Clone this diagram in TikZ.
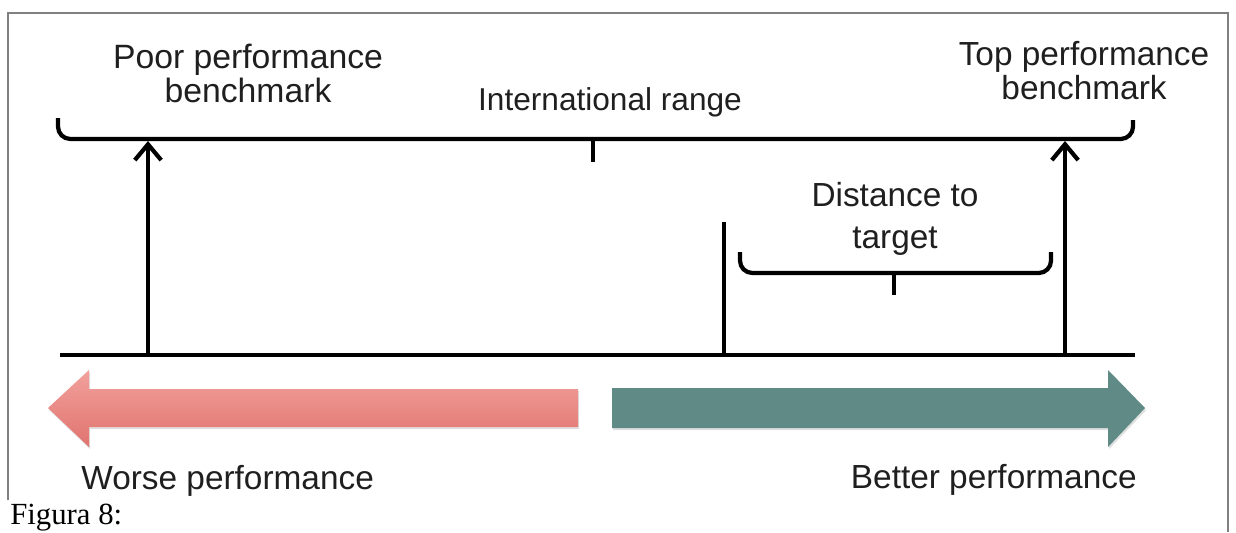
\documentclass[tikz,border=0pt]{standalone}
\usepackage{fontspec}
\setmainfont{Liberation Sans}
\newfontfamily\captionfont{Liberation Serif}
\usepackage[HTML]{xcolor}
\usepackage{tikz}
\usetikzlibrary{positioning, arrows, arrows.meta, shadows}

\definecolor{worsetop}{HTML}{F2A19D}
\definecolor{worsebot}{HTML}{E0736E}
\definecolor{better}{HTML}{5F8A86}
\definecolor{frame}{HTML}{808080}

\begin{document}
\begin{tikzpicture}[x=0.02cm, y=-0.02cm,
  line/.style={line width=2.4pt, black},
  bracket/.style={line width=2.4pt, black, rounded corners=7},
  uparrow/.style={line width=2.4pt, -{Straight Barb[length=9pt,width=15pt,line width=2.4pt]}},
  label/.style={inner sep=0pt, align=center, text=black!88},
  bigarrow/.style={drop shadow={shadow xshift=0.6pt, shadow yshift=-1.2pt, opacity=0.25}}]
\useasboundingbox (0,0) rectangle (1236,532);

% Frame round the figure
\draw[frame, line width=1.6pt] (8,500) -- (8,13) -- (1228,13) -- (1228,532);

% Labels on top
\node[label, anchor=north, font=\fontsize{19.2}{19.3}\selectfont] (poor) at (248,44) {Poor performance\\benchmark};
\node[label, anchor=north, font=\fontsize{19}{19.3}\selectfont] (top) at (1084,41) {Top performance\\benchmark};
\node[label, anchor=north, font=\fontsize{18}{20}\selectfont] (intl) at (610,87) {International range};
\node[label, anchor=north, font=\fontsize{19}{23.8}\selectfont] (dist) at (895,182) {Distance to\\target};

% International range bracket
\coordinate (rangeL) at (58,139);
\coordinate (rangeR) at (1133,139);
\draw[bracket] (58,118) -- (rangeL) -- (rangeR) -- (1133,120);
\draw[line] (593,139) -- (593,162);

% Distance to target bracket
\coordinate (distL) at (740,273);
\coordinate (distR) at (1051,273);
\draw[bracket] (740,252) -- (distL) -- (distR) -- (1051,252);
\draw[line] (894,273) -- (894,295);

% Axis with benchmarks and current value
\coordinate (axisL) at (60,355);
\coordinate (axisR) at (1135,355);
\coordinate (poorfoot) at (148,355);
\coordinate (poortip) at (148,141);
\coordinate (topfoot) at (1065,355);
\coordinate (toptip) at (1065,141);
\coordinate (nowfoot) at (724,355);
\coordinate (nowtop) at (724,222);
\draw[line] (axisL) -- (axisR);
\draw[uparrow] (poorfoot) -- (poortip);
\draw[uparrow] (topfoot) -- (toptip);
\draw[line] (nowfoot) -- (nowtop);

% Left: worse direction (red block arrow)
\path[bigarrow, top color=worsetop, bottom color=worsebot]
  (48,408) -- (89,370) -- (89,389) -- (578,389) -- (578,427) -- (89,427) -- (89,447) -- cycle;
\node[label, anchor=base west, font=\fontsize{19}{22}\selectfont] (worse) at (81,489) {Worse performance};

% Right: better direction (teal block arrow)
\path[bigarrow, fill=better]
  (612,388) -- (1108,388) -- (1108,370) -- (1145,408) -- (1108,447) -- (1108,428) -- (612,428) -- cycle;
\node[label, anchor=base east, font=\fontsize{19}{22}\selectfont] (betterlbl) at (1137,488) {Better performance};

% Caption
\node[inner sep=0pt, anchor=base west, font=\captionfont\fontsize{17.5}{20}\selectfont] (caption) at (10,524) {Figura 8:};
\end{tikzpicture}
\end{document}
